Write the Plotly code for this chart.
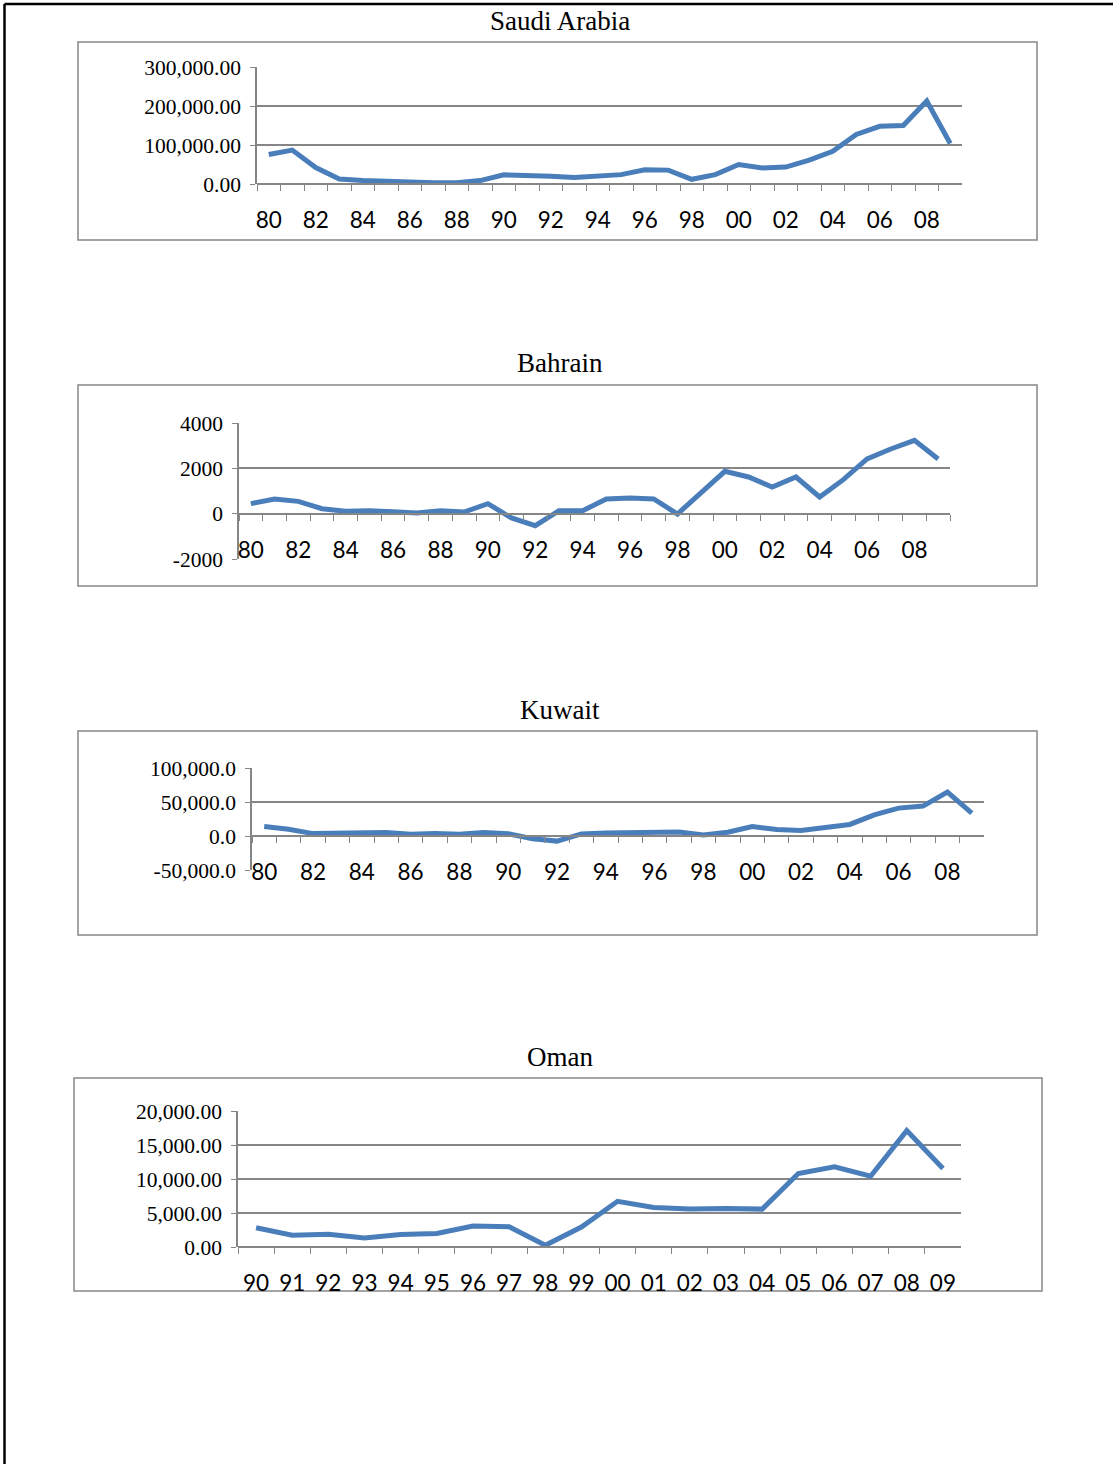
import plotly.graph_objects as go

W, H = 1113, 1464

years_80 = ["80", "81", "82", "83", "84", "85", "86", "87", "88", "89",
            "90", "91", "92", "93", "94", "95", "96", "97", "98", "99",
            "00", "01", "02", "03", "04", "05", "06", "07", "08", "09"]
years_90 = ["90", "91", "92", "93", "94", "95", "96", "97", "98", "99",
            "00", "01", "02", "03", "04", "05", "06", "07", "08", "09"]

saudi = [75700, 87000, 42000, 13000, 8700, 7000, 2600, 3500, 3500, 8700,
         23500, 22600, 20000, 16500, 21000, 24000, 36500, 35600, 12000, 24000,
         50000, 41000, 43500, 61000, 84000, 127000, 148000, 150000, 213000, 104000]
bahrain = [441, 647, 544, 220, 103, 132, 88, 29, 132, 74,
           441, -191, -529, 132, 132, 647, 691, 647, -15, 912,
           1868, 1618, 1176, 1618, 735, 1500, 2412, 2853, 3235, 2412]
kuwait = [14000, 10000, 3500, 4500, 5500, 5000, 2500, 3500, 2500, 5000,
          3500, -4000, -7500, 3000, 4500, 5000, 6500, 6000, 1500, 5500,
          14000, 9500, 8000, 12500, 17000, 31000, 41000, 44000, 64500, 33500]
oman = [2836, 1741, 1891, 1343, 1841, 1990, 3085, 2985, 249, 2935,
        6716, 5821, 5572, 5672, 5572, 10796, 11791, 10398, 17114, 11542]

saudi_ticks = [0, 100000, 200000, 300000]
bahrain_ticks = [-2000, 0, 2000, 4000]
kuwait_ticks = [-50000, 0, 50000, 100000]
oman_ticks = [0, 5000, 10000, 15000, 20000]

titles = ["Saudi Arabia", "Bahrain", "Kuwait", "Oman"]

LINE = "#4A7EBB"
GRAY = "#868686"
SERIF = "Liberation Serif, Times New Roman, serif"
SANS = "Lato, Open Sans, sans-serif"


def px(x):
    return x / W


def py(y):
    return 1 - y / H


panels = [
    dict(cats=years_80, vals=saudi, ticks=saudi_ticks,
         text=[f"{v:,.2f}" for v in saudi_ticks],
         title_y=21, box=(78, 42, 1037, 240), x0=257, x1=962, yt=67, yb=184, xpos=184),
    dict(cats=years_80, vals=bahrain, ticks=bahrain_ticks,
         text=[f"{v:d}" for v in bahrain_ticks],
         title_y=363, box=(78, 385, 1037, 586), x0=239, x1=950, yt=423, yb=559, xpos=514),
    dict(cats=years_80, vals=kuwait, ticks=kuwait_ticks,
         text=[f"{v:,.1f}" for v in kuwait_ticks],
         title_y=710, box=(78, 731, 1037, 935), x0=252, x1=984, yt=768, yb=870, xpos=836),
    dict(cats=years_90, vals=oman, ticks=oman_ticks,
         text=[f"{v:,.2f}" for v in oman_ticks],
         title_y=1057, box=(74, 1078, 1042, 1291), x0=238, x1=961, yt=1111, yb=1247, xpos=1247),
]

fig = go.Figure()
shapes = []
annotations = []

for i, p in enumerate(panels):
    n = i + 1
    xa = "x" if n == 1 else f"x{n}"
    ya = "y" if n == 1 else f"y{n}"
    xkey = "xaxis" if n == 1 else f"xaxis{n}"
    ykey = "yaxis" if n == 1 else f"yaxis{n}"

    fig.add_trace(go.Scatter(x=p["cats"], y=p["vals"], mode="lines",
                             line=dict(color=LINE, width=5),
                             xaxis=xa, yaxis=ya, showlegend=False,
                             hoverinfo="skip"))

    cats = p["cats"]
    step = 2 if len(cats) > 20 else 1
    ticktext = [c if k % step == 0 else "" for k, c in enumerate(cats)]

    fig.update_layout(**{
        xkey: dict(
            type="category", domain=[px(p["x0"]), px(p["x1"])],
            anchor="free", position=py(p["xpos"]),
            range=[-0.5, len(cats) - 0.5], automargin=False,
            tickmode="array", tickvals=cats, ticktext=ticktext,
            tickson="boundaries", ticks="outside", ticklen=6, tickwidth=1.3,
            tickcolor=GRAY, showline=True, linecolor=GRAY, linewidth=1.5,
            showgrid=False, zeroline=False, tickangle=0,
            tickfont=dict(family=SANS, size=22.5, color="black"),
            ticklabelstandoff=16, fixedrange=True,
        ),
        ykey: dict(
            domain=[py(p["yb"]), py(p["yt"])], anchor=xa, automargin=False,
            range=[p["ticks"][0], p["ticks"][-1]],
            tickmode="array", tickvals=p["ticks"], ticktext=p["text"],
            ticks="outside", ticklen=5, tickwidth=1.3, tickcolor=GRAY,
            showline=True, linecolor=GRAY, linewidth=1.5,
            showgrid=True, gridcolor=GRAY, gridwidth=1.5, zeroline=False,
            tickfont=dict(family=SERIF, size=21.5, color="black"),
            ticklabelstandoff=5, fixedrange=True,
        ),
    })

    x0, y0, x1, y1 = p["box"]
    shapes.append(dict(type="rect", xref="paper", yref="paper",
                       x0=px(x0), x1=px(x1), y0=py(y1), y1=py(y0),
                       line=dict(color=GRAY, width=1.5), layer="below"))
    annotations.append(dict(text=titles[i], xref="paper", yref="paper",
                            x=px(560), y=py(p["title_y"]), xanchor="center",
                            yanchor="middle", showarrow=False,
                            font=dict(family=SERIF, size=27, color="black")))

# page border (top and left)
shapes.append(dict(type="line", xref="paper", yref="paper",
                   x0=px(4.5), x1=1, y0=py(4), y1=py(4),
                   line=dict(color="black", width=2.5)))
shapes.append(dict(type="line", xref="paper", yref="paper",
                   x0=px(4.5), x1=px(4.5), y0=0, y1=py(4),
                   line=dict(color="black", width=2.5)))

fig.update_layout(template="none", width=W, height=H,
                  margin=dict(l=0, r=0, t=0, b=0, pad=0),
                  paper_bgcolor="white", plot_bgcolor="rgba(0,0,0,0)",
                  shapes=shapes, annotations=annotations, showlegend=False)

fig.write_html("out.html", config={"displayModeBar": False},
               post_script=("document.body.style.margin='0';"
                            "var d=document.getElementById('{plot_id}');"
                            "d.style.position='fixed';d.style.top='0';d.style.left='0';"))
